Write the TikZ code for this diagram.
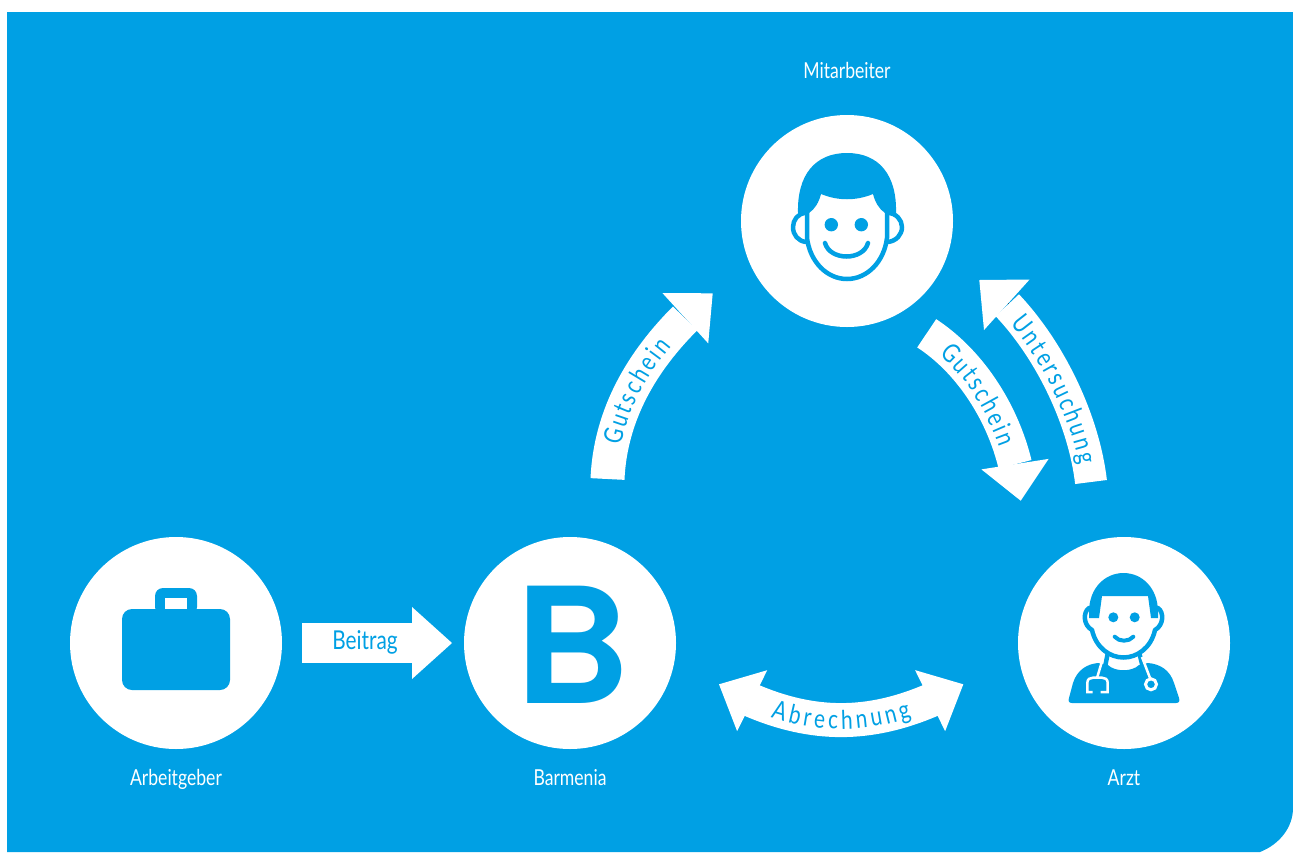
\documentclass[tikz,border=0pt]{standalone}
\usepackage{fontspec}
\setmainfont{Lato}[FakeStretch=0.8]
\newfontfamily\logofont{TeX Gyre Heros}
\usepackage{tikz}
\usetikzlibrary{arrows.meta,bending,decorations.text}
\definecolor{brandblue}{HTML}{00A0E4}
\newcommand{\capfont}{\fontsize{22}{26}\selectfont}
\newcommand{\flowfont}{\fontsize{26}{30}\selectfont}

\begin{document}
\begin{tikzpicture}[x=1pt,y=-1pt,
  >={Stealth[length=37pt,width=68pt,inset=0pt,line width=0pt]},
  hub node/.style={circle,fill=white,minimum size=212pt,inner sep=0pt,outer sep=0pt},
  cap node/.style={text=white,font=\capfont,inner sep=0pt,anchor=base},
  flow node/.style={text=brandblue,font=\flowfont,inner sep=0pt},
  flow arrow/.style={draw=white,line width=34pt,preaction={draw,-,shorten >=20pt,shorten <=#1}},
  flow arrow/.default=0pt,
  flow text/.style={decorate,decoration={text effects along path,text={#1},text align=center,raise=-9pt,
    text effects/.cd,text along path,character widths={font=\flowfont,inner xsep=1.5pt},
    characters={text=brandblue,font=\flowfont}}},
  icon line/.style={draw=brandblue,line width=4.5pt,line cap=round,line join=round},
  scope line/.style={draw=white,line width=2.5pt}]

  \useasboundingbox (0,0) rectangle (1293,852);
  \fill[brandblue] (7,12) -- (1293,12) -- (1293,808)
    .. controls (1293,827) and (1280,844) .. (1260,852) -- (7,852) -- cycle;

  \node[hub node] (arbeitgeber) at (176,643) {};
  \node[hub node] (barmenia) at (570,643) {};
  \node[hub node] (mitarbeiter) at (847,221) {};
  \node[hub node] (arzt) at (1124,643) {};

  \node[cap node] (lblmitarbeiter) at (847,78) {Mitarbeiter};
  \node[cap node] (lblarbeitgeber) at (176,785) {Arbeitgeber};
  \node[cap node] (lblbarmenia) at (570,785) {Barmenia};
  \node[cap node] (lblarzt) at (1124,785) {Arzt};

  \node[text=brandblue,font=\logofont\bfseries\fontsize{161}{161}\selectfont,
    inner sep=0pt,anchor=base west] (logo) at (514.3,703) {B};

  \coordinate (gs1a) at (607.5,479);
  \coordinate (gs1b) at (712.7,293.3);
  \coordinate (gs2a) at (926.7,333.3);
  \coordinate (gs2b) at (1020.7,500.7);
  \coordinate (usa) at (1091,482);
  \coordinate (usb) at (979.3,280);
  \coordinate (aba) at (719,684.3);
  \coordinate (abb) at (963.3,684.3);

  \draw[->,draw=white,line width=40pt,shorten <=20pt,shorten >=12pt,
    >={Stealth[length=40pt,width=72pt,inset=0pt,line width=0pt]}]
    (arbeitgeber.east) -- (barmenia.west);
  \node[flow node] (lblbeitrag) at (365,642) {Beitrag};

  \draw[->,flow arrow] (gs1a) .. controls (611,399) and (659,338) .. (gs1b);
  \draw[->,flow arrow] (gs2a) .. controls (977,366) and (1016,432) .. (gs2b);
  \draw[->,flow arrow,line width=32pt] (usa) .. controls (1083,412) and (1039,325) .. (usb);
  \draw[<->,flow arrow=20pt] (aba) .. controls (805,732) and (877,732) .. (abb);

  \path[flow text={Gutschein}] (gs1a)
    .. controls (610.5,411) and (645.6,356.8) .. (688.8,314.4);
  \path[flow text={Gutschein}] (gs2a)
    .. controls (969.5,361.1) and (1001.2,413) .. (1015.1,467.1);
  \path[flow text={Untersuchung}] (1004.4,303.6)
    .. controls (1049.9,352.2) and (1084.2,422.5) .. (usa);
  \path[flow text={Abrechnung}] (aba)
    .. controls (805,732) and (877,732) .. (abb);

  \fill[brandblue,rounded corners=10pt] (122,609) rectangle (230,690);
  \fill[brandblue,rounded corners=8pt] (155,615) -- (155,588) -- (197,588) -- (197,615) -- cycle;
  \fill[white] (165,598) rectangle (187,609);

  \fill[brandblue] (798,213) .. controls (797,175) and (815,153) .. (847,153)
    .. controls (879,153) and (897,175) .. (896,213) -- (885,213)
    .. controls (879,209) and (875,202) .. (873,194)
    .. controls (856,201) and (838,201) .. (821,194)
    .. controls (819,202) and (815,209) .. (809,213) -- cycle;
  \draw[icon line,line cap=butt] (807,211) -- (807,238) .. controls (810,262) and (827,279) .. (847,279)
    .. controls (867,279) and (884,262) .. (887,238) -- (887,211);
  \draw[icon line] (806,213) .. controls (798,213) and (793,220) .. (793,227)
    .. controls (793,235) and (798,241) .. (806,242);
  \draw[icon line] (888,213) .. controls (896,213) and (902,220) .. (902,227)
    .. controls (902,235) and (896,241) .. (888,242);
  \fill[brandblue] (831.3,224.7) circle (6.7) (861.3,224.7) circle (6.7);
  \draw[icon line] (825,243) .. controls (830,261) and (863,261) .. (868,243);

  \fill[brandblue] (1089,612) .. controls (1089,588) and (1105,573) .. (1123.5,573)
    .. controls (1142,573) and (1158,588) .. (1158,612) -- (1158,618) -- (1151,618)
    -- (1148,596) -- (1102,596) -- (1099,618) -- (1089,618) -- cycle;
  \draw[icon line] (1089,608) .. controls (1083,612) and (1083,625) .. (1092,630)
    .. controls (1096,648) and (1110,657.5) .. (1123.5,657.5)
    .. controls (1137,657.5) and (1151,648) .. (1155,630)
    .. controls (1164,625) and (1164,612) .. (1158,608);
  \fill[brandblue] (1113.3,617.3) circle (5) (1134.7,617.3) circle (5);
  \draw[icon line,line width=4pt] (1114.7,636.7) .. controls (1119,642) and (1129,642) .. (1133.3,636.7);
  \fill[brandblue] (1072,703) .. controls (1069,703) and (1068,701) .. (1069,698) -- (1073,683)
    .. controls (1077,670) and (1087,664) .. (1098,663) -- (1108,665)
    .. controls (1115,672) and (1132,672) .. (1139,665) -- (1148,663)
    .. controls (1160,664) and (1170,670) .. (1174,683) -- (1179,698)
    .. controls (1180,701) and (1179,703) .. (1176,703) -- cycle;
  \draw[icon line,line cap=butt] (1108,652) -- (1104,672) (1139,652) -- (1144,672);
  \draw[scope line] (1103,658) -- (1097,678);
  \draw[scope line] (1092.7,692) -- (1087.3,692) -- (1087.3,683)
    .. controls (1087.3,679) and (1090,677.7) .. (1093,677.7) -- (1102,677.7)
    .. controls (1105,677.7) and (1107.7,679) .. (1107.7,683) -- (1107.7,692) -- (1100.7,692);
  \draw[scope line] (1142,657) -- (1150,678);
  \draw[scope line,line width=3pt] (1151,684.3) circle (5.5);

\end{tikzpicture}
\end{document}
